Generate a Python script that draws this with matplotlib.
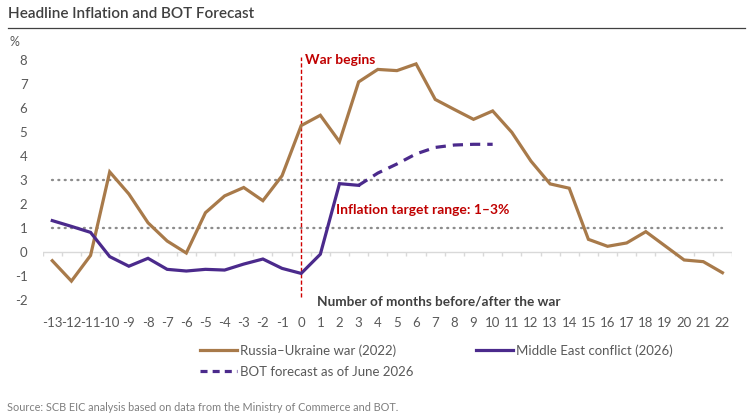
import matplotlib
matplotlib.use("Agg")
import matplotlib.pyplot as plt
from matplotlib.lines import Line2D
import numpy as np

plt.rcParams['font.family'] = ['Lato', 'DejaVu Sans']

months = list(range(-13, 23))
russia_ukraine = [-0.35, -1.2, -0.13, 3.35, 2.43, 1.23, 0.47, -0.03, 1.65, 2.35,
                  2.7, 2.15, 3.19, 5.28, 5.71, 4.61, 7.1, 7.62, 7.57, 7.85,
                  6.37, 5.95, 5.54, 5.89, 5.0, 3.8, 2.85, 2.67, 0.54, 0.25,
                  0.39, 0.86, 0.27, -0.32, -0.39, -0.85]
me_months = list(range(-13, 4))
middle_east = [1.32, 1.08, 0.83, -0.18, -0.58, -0.25, -0.71, -0.78, -0.71, -0.74,
               -0.49, -0.28, -0.67, -0.88, -0.08, 2.86, 2.79]
fc_months = [3, 4, 5, 6, 7, 8, 9, 10]
bot_forecast = [2.79, 3.3, 3.68, 4.1, 4.37, 4.47, 4.5, 4.5]
target_low, target_high = 1, 3
yticks = list(range(-2, 9))

BROWN = '#A87A4A'
PURPLE = '#4B2A8C'
RED = '#C00000'
GRAY = '#595959'

fig = plt.figure(figsize=(7.53, 4.19), dpi=100)
W, H = 753, 419
left, right = 42.7 / W, 732 / W
ytop_px, ybot_px = 54.3, 301.5
ax = fig.add_axes([left, 1 - ybot_px / H, right - left, (ybot_px - ytop_px) / H])
ax.set_xlim(months[0] - 0.5, months[-1] + 0.5)
ax.set_ylim(-2.05, 8.25)
for s in ax.spines.values():
    s.set_visible(False)

# zero axis with category tick marks
ax.axhline(0, color='#D9D9D9', lw=1.0, zorder=1)
bounds = np.arange(months[0] - 0.5, months[-1] + 1.0, 1.0)
ax.vlines(bounds, -0.17, 0, color='#D9D9D9', lw=1.0, zorder=1)

# target range dotted lines
for v in (target_low, target_high):
    ax.plot([months[0], months[-1]], [v, v], color='#8C8C8C', lw=1.7,
            linestyle=(0, (0.4, 2.3)), dash_capstyle='round', zorder=2)

# war begins line
ax.plot([0, 0], [-1.85, 8.15], color='#D00000', lw=1.0, linestyle=(0, (3, 1.6)), zorder=3)

ax.plot(months, russia_ukraine, color=BROWN, lw=2.3, solid_joinstyle='miter', zorder=4)
ax.plot(me_months, middle_east, color=PURPLE, lw=2.3, solid_joinstyle='miter', zorder=5)
ax.plot(fc_months, bot_forecast, color=PURPLE, lw=2.3, linestyle=(0, (3.2, 2.2)), zorder=5)

ax.set_yticks(yticks)
ax.set_yticklabels([str(t) for t in yticks])
ax.set_xticks(months)
ax.set_xticklabels([str(m) for m in months])
ax.tick_params(axis='y', length=0, pad=11, labelsize=9.5, labelcolor=GRAY)
ax.tick_params(axis='x', length=0, pad=11, labelsize=9.5, labelcolor=GRAY)

ax.text(0.2, 8.0, 'War begins', color=RED, fontsize=10, fontweight='bold',
        ha='left', va='center')
ax.text(1.8, 1.75, 'Inflation target range: 1\u20133%', color=RED, fontsize=10,
        fontweight='bold', ha='left', va='center')
ax.text(0.85, -2.05, 'Number of months before/after the war', color='#404040',
        fontsize=9.8, fontweight='bold', ha='left', va='center')

# title
fig.text(8 / W, 1 - 14 / H, 'Headline Inflation and BOT Forecast', fontsize=11,
         color='#404040', ha='left', va='center', fontweight='semibold')
fig.add_artist(Line2D([8 / W, 745 / W], [1 - 28.5 / H, 1 - 28.5 / H],
                      color='#404040', lw=0.9, transform=fig.transFigure))
fig.text(10 / W, 1 - 42 / H, '%', fontsize=9, color=GRAY, ha='left', va='center')

handles = [Line2D([], [], color=BROWN, lw=2.3),
           Line2D([], [], color=PURPLE, lw=2.3, linestyle=(0, (2.2, 1.6))),
           Line2D([], [], color=PURPLE, lw=2.3)]
labels = ['Russia\u2013Ukraine war (2022)', 'BOT forecast as of June 2026',
          'Middle East conflict (2026)']
leg = fig.legend(handles, labels, ncol=2, loc='upper left',
                 bbox_to_anchor=(200 / W, 1 - 344 / H), frameon=False,
                 fontsize=9.5, handlelength=2.8, handletextpad=0.25,
                 columnspacing=4.7, labelspacing=0.7, borderpad=0, borderaxespad=0)
for t in leg.get_texts():
    t.set_color(GRAY)

fig.text(7 / W, 1 - 407 / H,
         'Source: SCB EIC analysis based on data from the Ministry of Commerce and BOT.',
         fontsize=7.8, color='#7F7F7F', ha='left', va='center')

fig.savefig('out.png', dpi=100)
